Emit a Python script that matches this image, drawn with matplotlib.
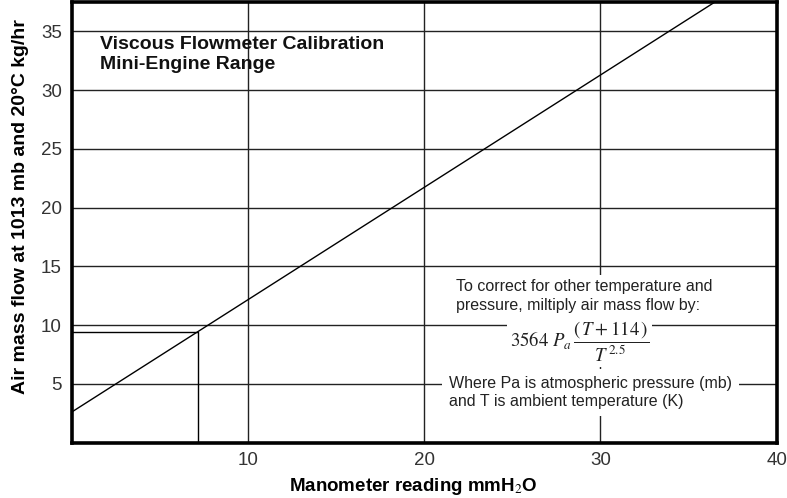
import matplotlib.pyplot as plt

# calibration line end points
calib_x = [0, 36.5]
calib_y = [2.6, 37.5]

# example reading drawn in the lower left
reading_x = 7.2
reading_y = 9.4

x_ticks = [10, 20, 30, 40]
y_ticks = [5, 10, 15, 20, 25, 30, 35]

plt.rcParams['font.family'] = ['Liberation Sans', 'DejaVu Sans']
plt.rcParams['mathtext.fontset'] = 'stix'

fig = plt.figure(figsize=(7.87, 4.98), dpi=100)
ax = fig.add_axes([0.0909, 0.111, 0.896, 0.885])

ax.set_xlim(0, 40)
ax.set_ylim(0, 37.5)
ax.set_xticks(x_ticks)
ax.set_yticks(y_ticks)
ax.grid(True, color='#222222', linewidth=1.0)
ax.set_axisbelow(True)
ax.tick_params(length=0, labelsize=13.5, labelcolor='#333333', pad=7)

for s in ax.spines.values():
    s.set_linewidth(2.6)
    s.set_color('black')

ax.plot(calib_x, calib_y, color='black', linewidth=1.0, zorder=3)
ax.plot([0, reading_x, reading_x], [reading_y, reading_y, 0],
        color='black', linewidth=1.0, zorder=3)

ax.text(1.6, 34.6, 'Viscous Flowmeter Calibration\nMini-Engine Range',
        fontsize=14, fontweight='bold', va='top', ha='left',
        linespacing=1.25, color='#111111')

ax.set_xlabel('Manometer reading mmH$_2$O', fontsize=13.5, fontweight='bold',
              va='center')
ax.xaxis.set_label_coords(0.484, -0.1)
ax.set_ylabel('Air mass flow at 1013 mb and 20°C kg/hr', fontsize=14,
              fontweight='bold', va='center')
ax.yaxis.set_label_coords(-0.073, 0.535)

# correction note with a white background over the grid
ax.text(28.8, 8.6, r'$3564\ P_a\,\dfrac{(\,T+114\,)}{T^{\,2.5}}$',
        fontsize=13.5, ha='center', va='center', color='#222222',
        bbox=dict(facecolor='white', edgecolor='none', pad=2), zorder=4)
ax.text(21.8, 13.9, 'To correct for other temperature and\npressure, miltiply air mass flow by:',
        fontsize=11.5, ha='left', va='top', linespacing=1.3, color='#222222',
        bbox=dict(facecolor='white', edgecolor='none', pad=3), zorder=5)
ax.text(21.4, 5.7, 'Where Pa is atmospheric pressure (mb)\nand T is ambient temperature (K)',
        fontsize=11.5, ha='left', va='top', linespacing=1.3, color='#222222',
        bbox=dict(facecolor='white', edgecolor='none', pad=5), zorder=4)

fig.savefig('out.png', dpi=100)
